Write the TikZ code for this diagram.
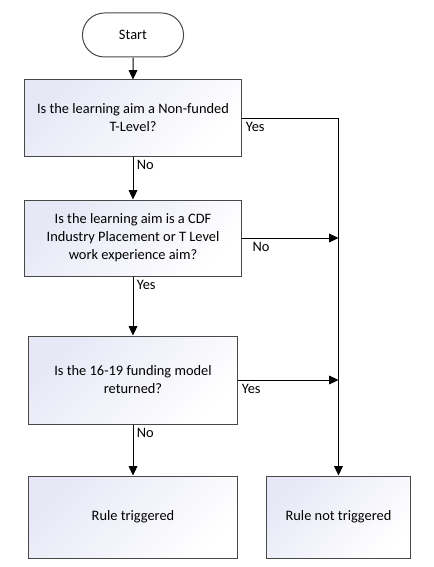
\documentclass[tikz,border=0pt]{standalone}
\usepackage{fontspec}
\setmainfont{Carlito}
\usetikzlibrary{shapes, shapes.misc}
\usetikzlibrary{arrows.meta}
\usetikzlibrary{positioning}

\definecolor{boxtint}{RGB}{230,232,246}
\definecolor{edgegrey}{RGB}{72,72,72}

\tikzset{
  terminal/.style={rounded rectangle, draw=edgegrey, line width=0.75pt,
    minimum width=82.5pt, minimum height=33pt},
  question/.style={rectangle, draw=edgegrey, line width=0.75pt, align=center,
    top color=boxtint, bottom color=white, shading angle=45,
    minimum width=162.75pt, minimum height=57pt},
  outcome/.style={question, minimum width=156.75pt, minimum height=61.5pt},
  flow/.style={>={Triangle[length=7pt,width=6.5pt]}, ->, line width=0.75pt},
  answer/.style={anchor=north west, inner sep=2.5pt}
}

\begin{document}
\begin{tikzpicture}[x=0.75pt, y=0.75pt, font=\fontsize{10.8}{13.5}\selectfont]
    \useasboundingbox (0,0) rectangle (433,-567);
    \node[terminal] (start) at (133,-35) {Start};
    \node[question, below=16.5pt of start] (nonfunded)
    {Is the learning aim a Non-funded\\T-Level?};
    \node[question, below=32.25pt of nonfunded] (placement)
    {Is the learning aim is a CDF\\Industry Placement or T Level\\work experience aim?};
    \node[question, minimum width=156.75pt, minimum height=66pt, below=44.25pt of placement] (model)
    {Is the 16-19 funding model\\returned?};
    \node[outcome, below=38.25pt of model] (triggered) {Rule triggered};
    \node[outcome, minimum width=108pt, right=21pt of triggered] (nottriggered) {Rule not triggered};

    % main column
    \draw[flow] (start) -- (nonfunded);
    \draw[flow] (nonfunded) -- node[answer, pos=0] {No} (placement);
    \draw[flow] (placement) -- node[answer, pos=0] {Yes} (model);
    \draw[flow] (model) -- node[answer, pos=0] {No} (triggered);
    % right-hand branch
    \draw[flow] (nonfunded) -- node[answer, pos=0] {Yes} (nonfunded -| nottriggered) -- (nottriggered);
    \draw[flow] (placement) -- node[answer, pos=0, xshift=5pt] {No} (placement -| nottriggered);
    \draw[flow] (model) -- node[answer, pos=0] {Yes} (model -| nottriggered);
\end{tikzpicture}
\end{document}
